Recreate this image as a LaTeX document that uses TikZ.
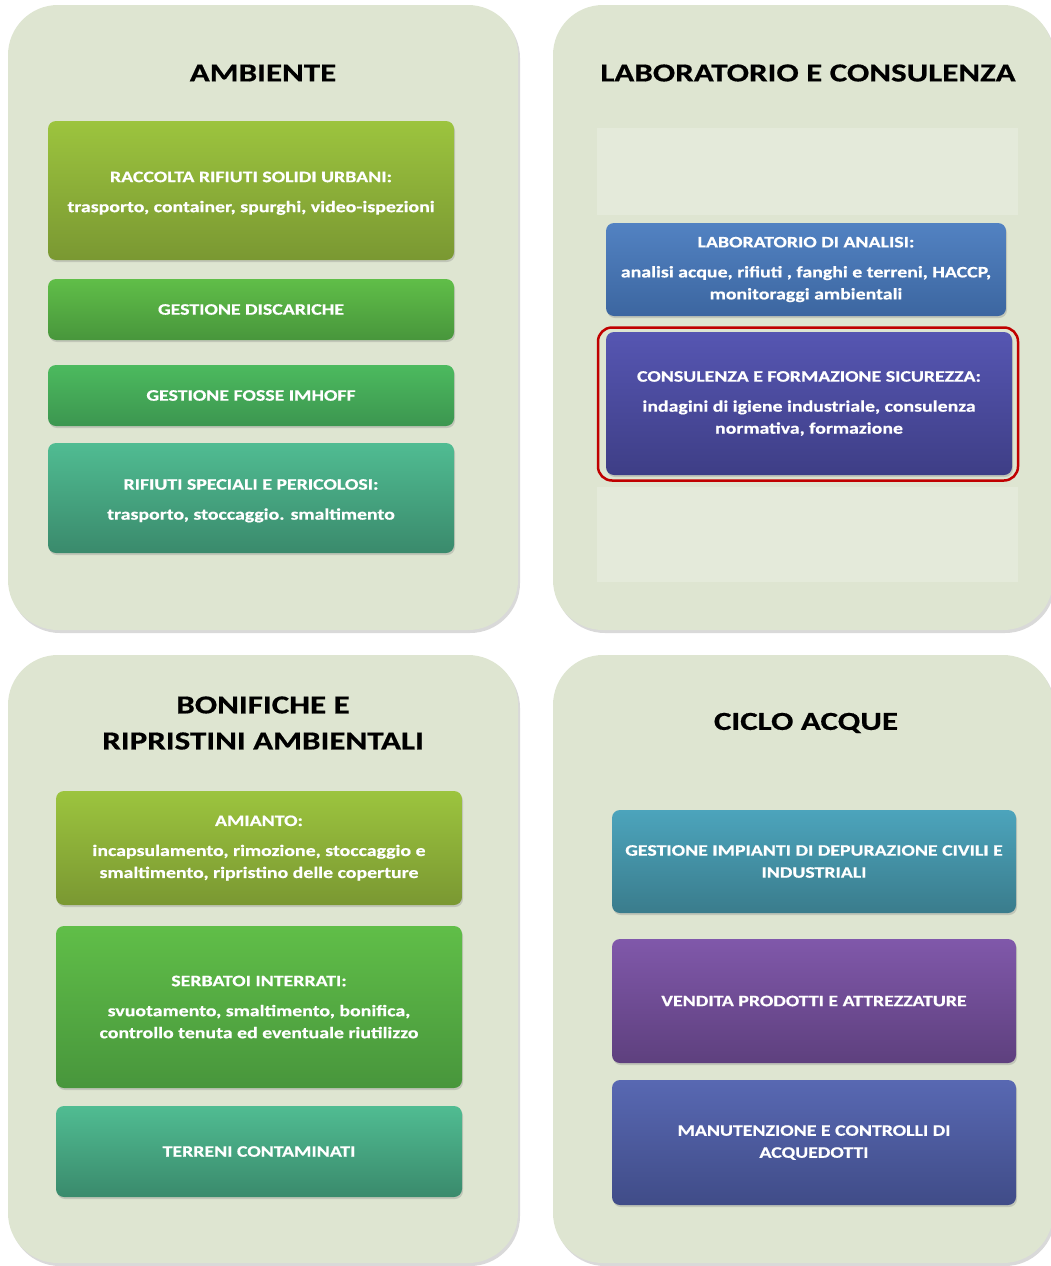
\documentclass[tikz,border=0pt]{standalone}
\usepackage{fontspec}
\setmainfont{Carlito}
\newfontfamily\wideheading[FakeStretch=1.27,FakeBold=0.5]{Carlito}
\newfontfamily\wideitem[FakeStretch=1.24,FakeBold=0.6]{Carlito}
\usetikzlibrary{shadows}

\definecolor{panelbg}{HTML}{DEE5D1}
\definecolor{panelhi}{HTML}{E4EADA}
\definecolor{olivetop}{HTML}{9CC43E}
\definecolor{olivebot}{HTML}{7A9832}
\definecolor{greentop}{HTML}{60BE48}
\definecolor{greenbot}{HTML}{48963C}
\definecolor{mintop}{HTML}{4CBA5E}
\definecolor{minbot}{HTML}{3C9650}
\definecolor{tealtop}{HTML}{50BC92}
\definecolor{tealbot}{HTML}{3A8A6C}
\definecolor{bluetop}{HTML}{5282C2}
\definecolor{bluebot}{HTML}{3C66A0}
\definecolor{indigotop}{HTML}{5656B2}
\definecolor{indigobot}{HTML}{3E3E86}
\definecolor{cyantop}{HTML}{4CA4BC}
\definecolor{cyanbot}{HTML}{3A7C8C}
\definecolor{violettop}{HTML}{8058AA}
\definecolor{violetbot}{HTML}{5E407E}
\definecolor{navytop}{HTML}{5868B2}
\definecolor{navybot}{HTML}{404C88}
\definecolor{ringred}{HTML}{C00000}

\tikzstyle{panel}=[rectangle,fill=panelbg,rounded corners=50pt,inner sep=0pt,drop shadow={shadow xshift=2pt,shadow yshift=-3pt,opacity=0.3}]
\tikzstyle{heading}=[font=\wideheading\bfseries\fontsize{26}{36}\selectfont,align=center,text=black]
\tikzstyle{item}=[rectangle,rounded corners=8pt,inner sep=0pt,text=white,align=center,font=\wideitem\bfseries\fontsize{16}{22}\selectfont,drop shadow={shadow xshift=1pt,shadow yshift=-2pt,opacity=0.3}]

\begin{document}
\begin{tikzpicture}[x=1pt,y=-1pt]
  \useasboundingbox (0,0) rectangle (1050,1266);
  % four panels
  \node [panel,minimum width=510pt,minimum height=625pt] (ambiente) at (263,317.5) {};
  \node [panel,minimum width=500pt,minimum height=625pt] (labcons) at (803,317.5) {};
  \node [panel,minimum width=510pt,minimum height=608pt] (bonifiche) at (263,959) {};
  \node [panel,minimum width=500pt,minimum height=608pt] (acque) at (803,959) {};

  % ambiente
  \node [heading] (tamb) at (263,73) {AMBIENTE};
  \node [item,top color=olivetop,bottom color=olivebot,minimum width=406pt,minimum height=139pt] (rsu) at (251,190.5)
    {\rule{0pt}{16pt}RACCOLTA RIFIUTI SOLIDI URBANI:\\[8pt]trasporto, container, spurghi, video-ispezioni};
  \node [item,top color=greentop,bottom color=greenbot,minimum width=406pt,minimum height=61pt] (disc) at (251,309.5)
    {GESTIONE DISCARICHE};
  \node [item,top color=mintop,bottom color=minbot,minimum width=406pt,minimum height=61pt] (imhoff) at (251,395.5)
    {GESTIONE FOSSE IMHOFF};
  \node [item,top color=tealtop,bottom color=tealbot,minimum width=406pt,minimum height=110pt] (speciali) at (251,498)
    {\rule{0pt}{16pt}RIFIUTI SPECIALI E PERICOLOSI:\\[8pt]trasporto, stoccaggio. smaltimento};

  % laboratorio e consulenza
  \node [heading] (tlab) at (808,73) {LABORATORIO E CONSULENZA};
  \fill [panelhi] (597,128) rectangle (1018,215);
  \fill [panelhi] (597,487) rectangle (1018,582);
  \node [item,top color=bluetop,bottom color=bluebot,minimum width=400pt,minimum height=93pt] (analisi) at (806,269.5)
    {LABORATORIO DI ANALISI:\\[8pt]analisi acque, rifiuti , fanghi e terreni, HACCP,\\monitoraggi ambientali};
  \node [item,top color=indigotop,bottom color=indigobot,minimum width=406pt,minimum height=143pt] (sicurezza) at (809,403.5)
    {CONSULENZA E FORMAZIONE SICUREZZA:\\[8pt]indagini di igiene industriale, consulenza\\normativa, formazione};
  \node [draw=ringred,line width=2.5pt,rounded corners=14pt,minimum width=420pt,minimum height=153pt] (ring) at (808,404) {};

  % bonifiche
  \node [heading] (tbon) at (263,723) {BONIFICHE E\\RIPRISTINI AMBIENTALI};
  \node [item,top color=olivetop,bottom color=olivebot,minimum width=406pt,minimum height=114pt] (amianto) at (259,848)
    {AMIANTO:\\[8pt]incapsulamento, rimozione, stoccaggio e\\smaltimento, ripristino delle coperture};
  \node [item,top color=greentop,bottom color=greenbot,minimum width=406pt,minimum height=162pt] (serbatoi) at (259,1007)
    {SERBATOI INTERRATI:\\[8pt]svuotamento, smaltimento, bonifica,\\controllo tenuta ed eventuale riutilizzo};
  \node [item,top color=tealtop,bottom color=tealbot,minimum width=406pt,minimum height=91pt] (terreni) at (259,1151.5)
    {TERRENI CONTAMINATI};

  % ciclo acque
  \node [heading] (tacq) at (806,723) {CICLO ACQUE};
  \node [item,top color=cyantop,bottom color=cyanbot,minimum width=404pt,minimum height=103pt] (depur) at (814,861.5)
    {GESTIONE IMPIANTI DI DEPURAZIONE CIVILI E\\INDUSTRIALI};
  \node [item,top color=violettop,bottom color=violetbot,minimum width=404pt,minimum height=124pt] (vendita) at (814,1001)
    {VENDITA PRODOTTI E ATTREZZATURE};
  \node [item,top color=navytop,bottom color=navybot,minimum width=404pt,minimum height=125pt] (manut) at (814,1142.5)
    {MANUTENZIONE E CONTROLLI DI\\ACQUEDOTTI};
\end{tikzpicture}
\end{document}
